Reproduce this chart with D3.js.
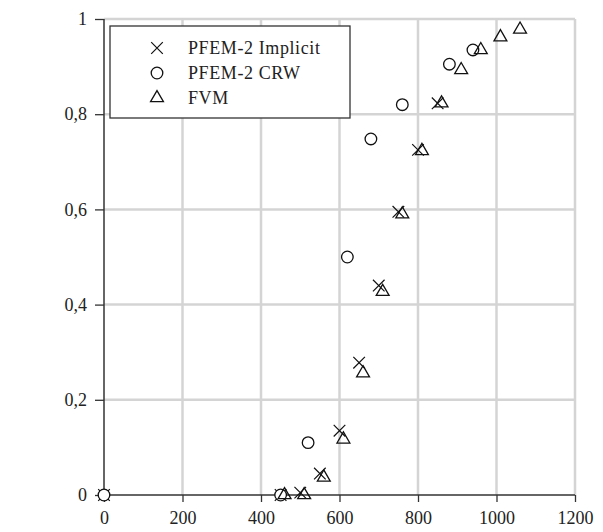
<!DOCTYPE html>
<html>
<head>
<meta charset="utf-8">
<script src="https://cdn.jsdelivr.net/npm/d3@7"></script>
<style>
  body { margin: 0; background: #fff; }
  svg { display: block; }
  text { font-family: "Liberation Serif", "Times New Roman", serif; fill: #222; }
</style>
</head>
<body>
<script>
// series data (x, y)
const implicitX = [0, 450, 500, 550, 600, 650, 700, 750, 800, 850]
const implicitY = [0, 0, 0.005, 0.045, 0.135, 0.278, 0.44, 0.595, 0.725, 0.823]

const crwX = [0, 450, 520, 620, 680, 760, 880, 940]
const crwY = [0, 0, 0.11, 0.5, 0.748, 0.82, 0.905, 0.935]

const fvmX = [460, 510, 560, 610, 660, 710, 760, 810, 860, 910, 960, 1010, 1060]
const fvmY = [0, 0, 0.037, 0.117, 0.256, 0.427, 0.59, 0.723, 0.823, 0.893, 0.935, 0.962, 0.978]

const xTicks = [0, 200, 400, 600, 800, 1000, 1200]
const yTicks = [0, 0.2, 0.4, 0.6, 0.8, 1]
const legendLabels = ['PFEM-2 Implicit', 'PFEM-2 CRW', 'FVM']

const width = 603
const height = 532
const margin = { top: 19, right: 28, bottom: 37, left: 104 }
const innerWidth = width - margin.left - margin.right
const innerHeight = height - margin.top - margin.bottom

const svg = d3.select('body').append('svg')
  .attr('width', width)
  .attr('height', height)

const main = svg.append('g')
  .attr('transform', `translate(${margin.left}, ${margin.top})`)

const x = d3.scaleLinear().domain([0, 1200]).range([0, innerWidth])
const y = d3.scaleLinear().domain([0, 1]).range([innerHeight, 0])

const fmt = d => d3.format('.1~f')(d).replace('.', ',')

//grid
main.append('g')
  .selectAll('line')
  .data(xTicks.slice(1))
  .enter().append('line')
  .attr('x1', d => x(d)).attr('x2', d => x(d))
  .attr('y1', 0).attr('y2', innerHeight)
  .attr('stroke', '#d4d4d4').attr('stroke-width', 2.5)

main.append('g')
  .selectAll('line')
  .data(yTicks.slice(1))
  .enter().append('line')
  .attr('x1', 0).attr('x2', innerWidth)
  .attr('y1', d => y(d)).attr('y2', d => y(d))
  .attr('stroke', '#d4d4d4').attr('stroke-width', 2.5)

//axes
const xAxis = d3.axisBottom(x).tickValues(xTicks).tickSize(7).tickFormat(d3.format('d'))
const yAxis = d3.axisLeft(y).tickValues(yTicks).tickSize(9).tickPadding(8).tickFormat(fmt)

const gx = main.append('g')
  .attr('transform', `translate(0, ${innerHeight})`)
  .call(xAxis)
const gy = main.append('g').call(yAxis)

;[gx, gy].forEach(g => {
  g.attr('font-family', '"Liberation Serif", serif').attr('font-size', 18)
  g.select('.domain').attr('stroke', '#333').attr('stroke-width', 1.5)
  g.selectAll('.tick line').attr('stroke', '#333').attr('stroke-width', 1.3)
  g.selectAll('.tick text').attr('fill', '#222')
})
gx.selectAll('.tick text').attr('dy', null).attr('y', 29)
gx.select('.domain').attr('d', `M0,0H${innerWidth}`)
gy.select('.domain').attr('d', `M0,${innerHeight}V0`)

//markers
const cross = 5.8
const drawCross = (g, px, py) => {
  g.append('path')
    .attr('d', `M${px - cross},${py - cross}L${px + cross},${py + cross}M${px - cross},${py + cross}L${px + cross},${py - cross}`)
    .attr('stroke', '#111').attr('stroke-width', 1.2).attr('fill', 'none')
}
const drawCircle = (g, px, py) => {
  g.append('circle')
    .attr('cx', px).attr('cy', py).attr('r', 5.8)
    .attr('stroke', '#111').attr('stroke-width', 1.3).attr('fill', '#fff')
}
const tri = d3.symbol().type(d3.symbolTriangle).size(72)
const drawTriangle = (g, px, py) => {
  g.append('path')
    .attr('d', tri())
    .attr('transform', `translate(${px}, ${py})`)
    .attr('stroke', '#111').attr('stroke-width', 1.3).attr('fill', 'none')
}

const pts = main.append('g')
implicitX.forEach((d, i) => drawCross(pts, x(d), y(implicitY[i])))
crwX.forEach((d, i) => drawCircle(pts, x(d), y(crwY[i])))
fvmX.forEach((d, i) => drawTriangle(pts, x(d), y(fvmY[i])))

//legend
const legend = svg.append('g').attr('transform', 'translate(110, 26)')
legend.append('rect')
  .attr('width', 240).attr('height', 92)
  .attr('fill', '#fff').attr('stroke', '#333').attr('stroke-width', 1.3)

const drawers = [drawCross, drawCircle, drawTriangle]
legendLabels.forEach((label, i) => {
  const ly = 22 + i * 25
  drawers[i](legend, 47, ly)
  legend.append('text')
    .attr('x', 78).attr('y', ly + 6)
    .attr('font-size', 18)
    .style('letter-spacing', '0.6px')
    .text(label)
})
</script>
</body>
</html>
